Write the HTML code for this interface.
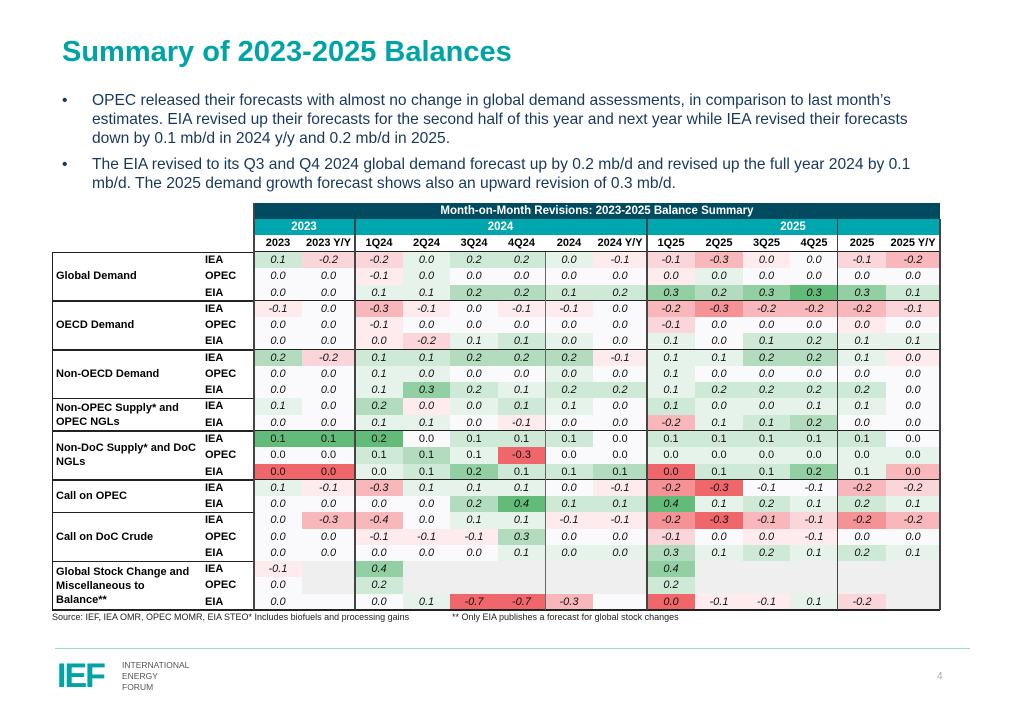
<!DOCTYPE html>
<html><head><meta charset="utf-8">
<style>
body{margin:0;width:1024px;height:709px;background:#fff;position:relative;overflow:hidden;font-family:"Liberation Sans",sans-serif;}
.abs{position:absolute;}
#title{left:62px;top:36px;font-size:29px;font-weight:bold;color:#00a3a6;}
.bul{left:62px;font-size:15.6px;line-height:19px;color:#17375e;width:862px;}
.bul span.d{position:absolute;left:0;}
.bul div.t{margin-left:30px;}
.cell{position:absolute;font-size:11px;text-align:center;line-height:16px;color:#111;box-sizing:border-box;}
.lbl{position:absolute;font-size:11px;font-weight:bold;color:#000;line-height:14px;}
</style></head><body>
<div id="title" class="abs">Summary of 2023-2025 Balances</div>
<div class="abs bul" style="top:91px"><span class="d">•</span><div class="t">OPEC released their forecasts with almost no change in global demand assessments, in comparison to last month’s estimates. EIA revised up their forecasts for the second half of this year and next year while IEA revised their forecasts down by 0.1 mb/d in 2024 y/y and 0.2 mb/d in 2025.</div></div>
<div class="abs bul" style="top:155px"><span class="d">•</span><div class="t">The EIA revised to its Q3 and Q4 2024 global demand forecast up by 0.2 mb/d and revised up the full year 2024 by 0.1 mb/d. The 2025 demand growth forecast shows also an upward revision of 0.3 mb/d.</div></div>

<div id="tbl" class="abs" style="left:0;top:0;width:1024px;height:640px"></div>

<div class="abs" style="left:52px;top:612px;font-size:9px;color:#222">Source: IEF, IEA OMR, OPEC MOMR, EIA STEO* Includes biofuels and processing gains</div>
<div class="abs" style="left:452px;top:612px;font-size:9px;color:#222">** Only EIA publishes a forecast for global stock changes</div>
<div class="abs" style="left:55px;top:648px;width:915px;height:1px;background:#9fd6d6"></div>
<div class="abs" style="left:57px;top:660px;font-size:34px;font-weight:bold;color:#00a3a6;letter-spacing:-2px;line-height:32px">IEF</div>
<div class="abs" style="left:122px;top:660px;font-size:8.5px;line-height:11px;color:#555">INTERNATIONAL<br>ENERGY<br>FORUM</div>
<div class="abs" style="left:937px;top:671px;font-size:10px;color:#aaa">4</div>

<script>
const columns=["2023","2023 Y/Y","1Q24","2Q24","3Q24","4Q24","2024","2024 Y/Y","1Q25","2Q25","3Q25","4Q25","2025","2025 Y/Y"];
const groups=["Global Demand","OECD Demand","Non-OECD Demand","Non-OPEC Supply* and\nOPEC NGLs","Non-DoC Supply* and DoC\nNGLs","Call on OPEC","Call on DoC Crude","Global Stock Change and\nMiscellaneous to\nBalance**"];
const sources=[["IEA","OPEC","EIA"],["IEA","OPEC","EIA"],["IEA","OPEC","EIA"],["IEA","EIA"],["IEA","OPEC","EIA"],["IEA","EIA"],["IEA","OPEC","EIA"],["IEA","OPEC","EIA"]];
const values=[
["0.1","-0.2","-0.2","0.0","0.2","0.2","0.0","-0.1","-0.1","-0.3","0.0","0.0","-0.1","-0.2"],
["0.0","0.0","-0.1","0.0","0.0","0.0","0.0","0.0","0.0","0.0","0.0","0.0","0.0","0.0"],
["0.0","0.0","0.1","0.1","0.2","0.2","0.1","0.2","0.3","0.2","0.3","0.3","0.3","0.1"],
["-0.1","0.0","-0.3","-0.1","0.0","-0.1","-0.1","0.0","-0.2","-0.3","-0.2","-0.2","-0.2","-0.1"],
["0.0","0.0","-0.1","0.0","0.0","0.0","0.0","0.0","-0.1","0.0","0.0","0.0","0.0","0.0"],
["0.0","0.0","0.0","-0.2","0.1","0.1","0.0","0.0","0.1","0.0","0.1","0.2","0.1","0.1"],
["0.2","-0.2","0.1","0.1","0.2","0.2","0.2","-0.1","0.1","0.1","0.2","0.2","0.1","0.0"],
["0.0","0.0","0.1","0.0","0.0","0.0","0.0","0.0","0.1","0.0","0.0","0.0","0.0","0.0"],
["0.0","0.0","0.1","0.3","0.2","0.1","0.2","0.2","0.1","0.2","0.2","0.2","0.2","0.0"],
["0.1","0.0","0.2","0.0","0.0","0.1","0.1","0.0","0.1","0.0","0.0","0.1","0.1","0.0"],
["0.0","0.0","0.1","0.1","0.0","-0.1","0.0","0.0","-0.2","0.1","0.1","0.2","0.0","0.0"],
["0.1","0.1","0.2","0.0","0.1","0.1","0.1","0.0","0.1","0.1","0.1","0.1","0.1","0.0"],
["0.0","0.0","0.1","0.1","0.1","-0.3","0.0","0.0","0.0","0.0","0.0","0.0","0.0","0.0"],
["0.0","0.0","0.0","0.1","0.2","0.1","0.1","0.1","0.0","0.1","0.1","0.2","0.1","0.0"],
["0.1","-0.1","-0.3","0.1","0.1","0.1","0.0","-0.1","-0.2","-0.3","-0.1","-0.1","-0.2","-0.2"],
["0.0","0.0","0.0","0.0","0.2","0.4","0.1","0.1","0.4","0.1","0.2","0.1","0.2","0.1"],
["0.0","-0.3","-0.4","0.0","0.1","0.1","-0.1","-0.1","-0.2","-0.3","-0.1","-0.1","-0.2","-0.2"],
["0.0","0.0","-0.1","-0.1","-0.1","0.3","0.0","0.0","-0.1","0.0","0.0","-0.1","0.0","0.0"],
["0.0","0.0","0.0","0.0","0.0","0.1","0.0","0.0","0.3","0.1","0.2","0.1","0.2","0.1"],
["-0.1",null,"0.4",null,null,null,null,null,"0.4",null,null,null,null,null],
["0.0",null,"0.2",null,null,null,null,null,"0.2",null,null,null,null,null],
["0.0","","0.0","0.1","-0.7","-0.7","-0.3","","0.0","-0.1","-0.1","0.1","-0.2",null]
];
const shades=[
[2,-2,-2,1,2,2,1,-1,-2,-3,-1,0,-2,-3],
[0,0,-1,1,0,0,0,0,-1,1,0,0,0,0],
[0,0,1,1,3,3,2,2,4,3,4,5,4,2],
[-1,0,-3,-1,0,-1,-1,0,-3,-4,-3,-3,-3,-2],
[0,0,-1,0,0,0,0,0,-2,0,0,0,-1,0],
[0,0,-1,-2,1,2,1,0,1,0,2,2,1,1],
[3,-2,2,2,3,3,3,-1,1,1,3,3,1,-1],
[0,0,1,1,0,0,1,0,1,0,0,0,0,0],
[0,0,1,4,2,1,2,2,1,2,2,2,2,0],
[1,0,3,-1,1,2,1,0,2,1,1,1,1,0],
[0,0,1,1,0,-1,0,0,-3,1,2,3,0,0],
[5,5,5,0,2,2,2,0,2,2,2,2,2,0],
[0,0,2,3,1,-5,0,0,1,1,1,1,1,1],
[-5,-5,1,2,4,2,2,3,-5,2,2,4,1,-3],
[1,-1,-3,1,1,1,0,-1,-4,-5,0,0,-3,-2],
[0,0,0,0,3,5,2,2,5,1,2,1,2,1],
[0,-3,-3,0,1,1,-1,-1,-4,-5,-3,-2,-4,-3],
[0,0,-1,-1,-1,3,0,0,-2,0,-1,-1,0,0],
[0,0,0,0,0,1,1,1,3,1,2,1,2,1],
[-1,0,4,0,0,0,0,0,4,0,0,0,0,0],
[0,0,2,0,0,0,0,0,2,0,0,0,0,0],
[0,0,0,1,-5,-5,-3,0,-5,-1,-1,1,-2,0]
];
const plainRows=[11,12,13];
const G=["#fafafc","#e6f3ea","#cfe9d7","#b2dcbd","#92cfa2","#63bb7a"];
const R=["#fafafc","#fdebee","#fad6da","#f7b7bb","#f49296","#f0676b"];
const colW=[48,53,48,47,48,47,48,54,48,48,47,48,48,54];
const X0=254,Y0=252,RH=16.27;
const tbl=document.getElementById('tbl');
function colX(i){let x=X0;for(let k=0;k<i;k++)x+=colW[k];return x;}
function rowY(r){return Y0+r*RH;}
function box(x,y,w,h,bg){const d=document.createElement('div');d.className='abs';d.style.cssText=`left:${x}px;top:${y}px;width:${w}px;height:${h}px;background:${bg}`;tbl.appendChild(d);return d;}
let h=box(254,203,686,16,'#004b5f');


h.style.cssText+=';color:#fff;font-weight:bold;font-size:11.5px;text-align:center;line-height:16px';
h.textContent='Month-on-Month Revisions: 2023-2025 Balance Summary';
const yrs=[["2023",0,2],["2024",2,8],["2025",8,14]];
yrs.forEach(([t,a,b])=>{const e=box(colX(a),219,colX(b)-colX(a),16,'#00a6ad');


e.style.cssText+=';color:#fff;font-weight:bold;font-size:11.5px;text-align:center;line-height:16px;border-right:1px solid #fff;box-sizing:border-box';e.textContent=t;});
columns.forEach((c,i)=>{const e=box(colX(i),235,colW[i],17,'#fff');


e.style.cssText+=';font-weight:bold;font-size:11px;text-align:center;line-height:17px';e.textContent=c;});
box(254,251,686,1.5,'#222');
let r=0;
groups.forEach((g,gi)=>{
  const n=sources[gi].length;const y=rowY(r),hh=n*RH;
  const gl=document.createElement('div');gl.className='lbl';
  
  
  const lines=g.split('\n');gl.innerHTML=lines.join('<br>');
  gl.style.left='56px';gl.style.top=(y+hh/2-lines.length*7)+'px';tbl.appendChild(gl);
  sources[gi].forEach((s,si)=>{
    const yy=rowY(r);
    const sl=document.createElement('div');sl.className='lbl';
    
    
    sl.textContent=s;sl.style.left='205px';sl.style.top=(yy+1)+'px';tbl.appendChild(sl);
    values[r].forEach((v,ci)=>{
      const c=document.createElement('div');c.className='cell';
      
      
      const sh=shades[r][ci];
      c.style.left=colX(ci)+'px';c.style.top=yy+'px';c.style.width=colW[ci]+'px';c.style.height=(RH+0.5)+'px';
      c.style.background=v===null?'#efefef':(sh>=0?G[sh]:R[-sh]);
      c.style.fontStyle=plainRows.includes(r)?'normal':'italic';
      c.textContent=v||'';
      tbl.appendChild(c);
    });
    r++;
  });
  box(52,rowY(r)-0.5,888,1.5,'#222');
});
box(52,rowY(0)-0.5,202,1.5,'#222');
box(52,rowY(0),1.2,rowY(r)-rowY(0),'#222');
[0,2,8,12,14].forEach(i=>box(colX(i)-1,i==0?203:219,i==12?1:2,rowY(r)-(i==0?203:219),'#444'));
box(colX(6)-0.5,252,1,rowY(r)-252,'#666');
</script>
</body></html>
